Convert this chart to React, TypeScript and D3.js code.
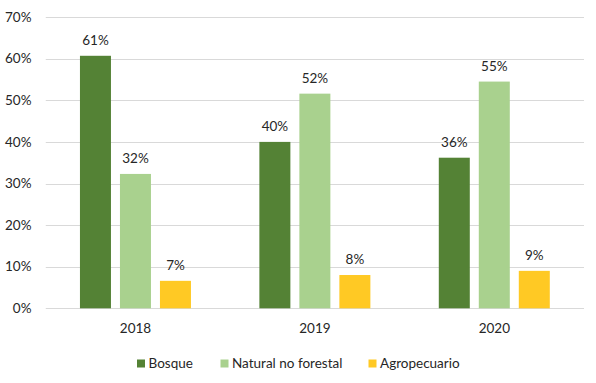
import React from "react";
import * as d3 from "d3";

const years = ["2018", "2019", "2020"];
const seriesNames = ["Bosque", "Natural no forestal", "Agropecuario"];
const bosque = [60.7, 40.0, 36.2];
const naturalNoForestal = [32.3, 51.6, 54.5];
const agropecuario = [6.6, 8.0, 9.0];
const labelsBosque = ["61%", "40%", "36%"];
const labelsNatural = ["32%", "52%", "55%"];
const labelsAgro = ["7%", "8%", "9%"];
const yTicks = [0, 10, 20, 30, 40, 50, 60, 70];

const colors = ["#548235", "#A9D18E", "#FFC924"];
const W = 596;
const H = 383;
const FONT = "Lato, 'Open Sans', sans-serif";

export default function App() {
  const values = [bosque, naturalNoForestal, agropecuario];
  const labels = [labelsBosque, labelsNatural, labelsAgro];

  const x0 = d3.scaleBand<string>().domain(years).range([45.75, 584]).padding(0);
  const x1 = d3
    .scaleBand<string>()
    .domain(seriesNames)
    .range([-55.5, 55.5])
    .paddingInner(9 / 40)
    .paddingOuter(0);
  const y = d3.scaleLinear().domain([0, 70]).range([308.3, 17.1]);

  const [xl, xr] = x0.range();

  // legend layout
  const legendItems = [
    { name: seriesNames[0], x: 137 },
    { name: seriesNames[1], x: 220.5 },
    { name: seriesNames[2], x: 368.5 },
  ];

  return (
    <div style={{ position: "absolute", left: 0, top: 0 }}>
      <svg width={W} height={H} style={{ display: "block", background: "#fff" }}>
        {yTicks.map((t) => (
          <g key={t}>
            <line
              x1={xl}
              x2={xr}
              y1={Math.round(y(t)) + 0.5}
              y2={Math.round(y(t)) + 0.5}
              stroke="#D9D9D9"
              strokeWidth={1}
            />
            <text
              x={31.5}
              y={y(t)}
              dy="0.35em"
              textAnchor="end"
              fontFamily={FONT}
              fontSize={13.5}
              fill="#262626"
            >
              {t}%
            </text>
          </g>
        ))}
        {years.map((yr, i) => (
          <g key={yr} transform={`translate(${x0(yr)! + x0.bandwidth() / 2},0)`}>
            {seriesNames.map((s, j) => {
              const v = values[j][i];
              const bx = x1(s)!;
              return (
                <g key={s}>
                  <rect
                    x={bx}
                    y={y(v)}
                    width={x1.bandwidth()}
                    height={y(0) - y(v)}
                    fill={colors[j]}
                  />
                  <text
                    x={bx + x1.bandwidth() / 2}
                    y={y(v) - 11}
                    textAnchor="middle"
                    fontFamily={FONT}
                    fontSize={13.5}
                    fill="#262626"
                  >
                    {labels[j][i]}
                  </text>
                </g>
              );
            })}
            <text
              x={0}
              y={333}
              textAnchor="middle"
              fontFamily={FONT}
              fontSize={13.5}
              fill="#262626"
            >
              {yr}
            </text>
          </g>
        ))}
        {legendItems.map((it, j) => (
          <g key={it.name}>
            <rect x={it.x} y={359.5} width={8} height={8} fill={colors[j]} />
            <text
              x={it.x + 11.5}
              y={368}
              fontFamily={FONT}
              fontSize={13.5}
              fill="#262626"
            >
              {it.name}
            </text>
          </g>
        ))}
      </svg>
    </div>
  );
}
